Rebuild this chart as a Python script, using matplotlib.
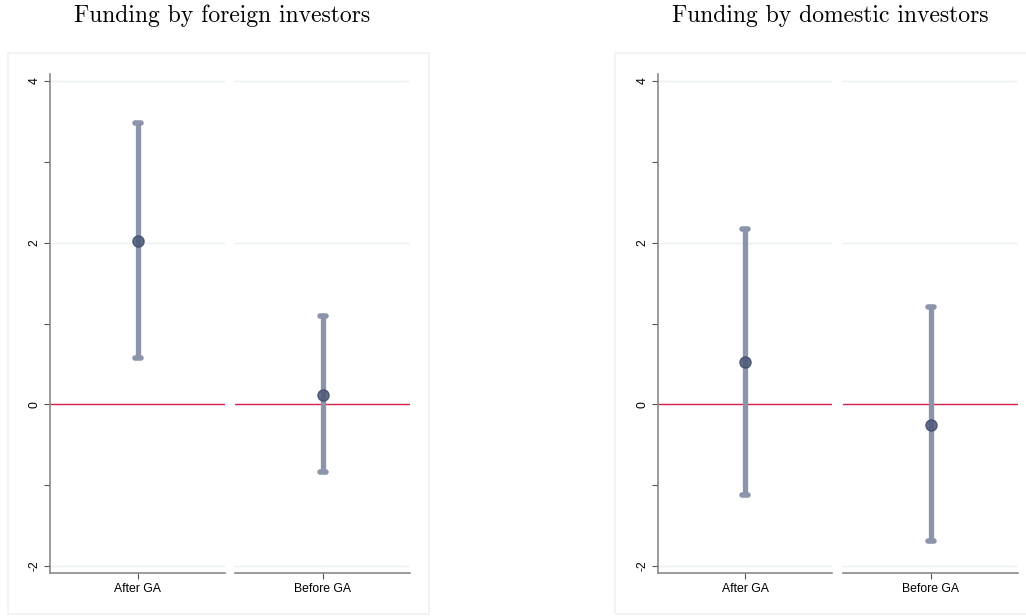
import numpy as np
import matplotlib
matplotlib.use('Agg')
import matplotlib.pyplot as plt
from matplotlib.patches import Rectangle
from matplotlib.markers import MarkerStyle

# Coeficientes e intervalos de confiança por grupo
groups = ['After GA', 'Before GA']
titles = ['Funding by foreign investors', 'Funding by domestic investors']

foreign_coef = [2.02, 0.12]
foreign_lo = [0.57, -0.84]
foreign_hi = [3.48, 1.09]

domestic_coef = [0.52, -0.25]
domestic_lo = [-1.12, -1.69]
domestic_hi = [2.17, 1.21]

major_ticks = [-2, 0, 2, 4]
minor_ticks = [-1, 1, 3]

W, H = 1026, 616
fig = plt.figure(figsize=(W / 100, H / 100), dpi=100)
fig.patch.set_facecolor('white')

def px(x0, y0, x1, y1):
    # converte pixels (origem no topo) para coordenadas da figura
    return [x0 / W, 1 - y1 / H, (x1 - x0) / W, (y1 - y0) / H]

bar_col = '#8c94ab'
dot_col = '#4f5a7b'
red = '#d81e4b'
grid_col = '#eaf1f1'
axis_col = '#8a8a8a'
cap = MarkerStyle('_', capstyle='round')

panels = [
    (foreign_coef, foreign_lo, foreign_hi, 8, 429, 222, [(50, 225), (235, 410)]),
    (domestic_coef, domestic_lo, domestic_hi, 615, 1040, 830, [(658, 832), (843, 1018)]),
]

for p, (coef, lo, hi, bx0, bx1, tx, subs) in enumerate(panels):
    # moldura clara em volta de cada gráfico
    fig.patches.append(Rectangle((bx0 / W, 1 - 614 / H), (bx1 - bx0) / W, (614 - 53) / H,
                                 transform=fig.transFigure, fill=False,
                                 edgecolor='#eef2f2', lw=1.2))
    fig.text(tx / W, 1 - 16 / H, titles[p],
             family='cmr10', fontsize=17, ha='center', va='center')

    for i, (sx0, sx1) in enumerate(subs):
        ax = fig.add_axes(px(sx0, 74, sx1, 573))
        ax.set_xlim(-1, 1)
        ax.set_ylim(-2.086, 4.086)
        for yv in [4, 2, -2]:
            ax.axhline(yv, color=grid_col, lw=1.0, zorder=0)
        ax.axhline(0, color=red, lw=1.0, zorder=1)

        ax.vlines(0, lo[i], hi[i], color=bar_col, lw=3.8, zorder=2)
        ax.plot([0, 0], [lo[i], hi[i]], ls='none', marker=cap, ms=5, mew=4,
                color=bar_col, zorder=2)
        ax.plot(0, coef[i], 'o', ms=8, color=dot_col, mec='#434d6d', alpha=0.88, zorder=3)

        for s in ['top', 'right']:
            ax.spines[s].set_visible(False)
        ax.spines['bottom'].set_color(axis_col)
        ax.spines['bottom'].set_linewidth(1.2)
        ax.set_xticks([0])
        ax.set_xticklabels([groups[i]], family='Liberation Sans', fontsize=8.8)
        ax.tick_params(axis='x', length=4, color='#555555', width=0.8, pad=3)

        ax.set_yticks(major_ticks)
        ax.set_yticks(minor_ticks, minor=True)
        if i == 0:
            ax.spines['left'].set_color(axis_col)
            ax.spines['left'].set_linewidth(1.2)
            ax.set_yticklabels([str(t) for t in major_ticks], rotation=90,
                               family='Liberation Sans', fontsize=8.8, va='center')
            ax.tick_params(axis='y', which='both', length=4, color='#555555',
                           width=0.8, pad=3)
        else:
            ax.spines['left'].set_visible(False)
            ax.tick_params(axis='y', which='both', left=False, labelleft=False)

fig.savefig('out.png', dpi=100, facecolor='white')
